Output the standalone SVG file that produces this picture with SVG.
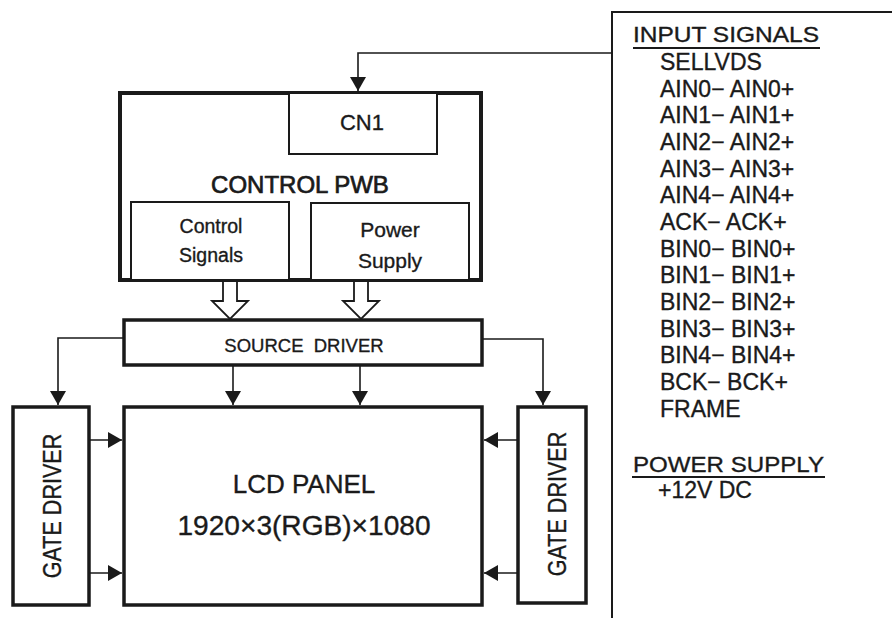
<svg xmlns="http://www.w3.org/2000/svg" width="892" height="621" viewBox="0 0 892 621">
<defs>
<style>
text{font-family:"Liberation Sans",Arial,sans-serif;fill:#1a1a1a;stroke:#1a1a1a;stroke-width:0.35}
.box{fill:#fff;stroke:#1a1a1a}
.thick{stroke-width:4}
.med{stroke-width:3.5}
.thin{stroke-width:2}
.wire{fill:none;stroke:#1a1a1a;stroke-width:1.6}
.hollow{fill:#fff;stroke:#1a1a1a;stroke-width:1.8;stroke-linejoin:miter}
.item{font-size:23px}
.head{font-size:22.5px}
.bold{stroke-width:0.7}
</style>
<marker id="ah" viewBox="0 0 14 16" markerWidth="14" markerHeight="16" refX="14" refY="8" orient="auto" markerUnits="userSpaceOnUse">
<path d="M0,0 L14,8 L0,16 Z" fill="#1a1a1a"/>
</marker>
</defs>
<rect width="892" height="621" fill="#fff"/>

<g id="input-panel">
<path d="M892,12 H612 V618" fill="none" stroke="#1a1a1a" stroke-width="2"/>
<text class="head" x="633" y="42" textLength="186" lengthAdjust="spacingAndGlyphs">INPUT SIGNALS</text>
<line x1="633" y1="48" x2="820" y2="48" stroke="#1a1a1a" stroke-width="2"/>
<text class="item" x="660" y="70">SELLVDS</text>
<text class="item" x="660" y="97">AIN0− AIN0+</text>
<text class="item" x="660" y="123">AIN1− AIN1+</text>
<text class="item" x="660" y="150">AIN2− AIN2+</text>
<text class="item" x="660" y="177">AIN3− AIN3+</text>
<text class="item" x="660" y="203">AIN4− AIN4+</text>
<text class="item" x="660" y="230">ACK− ACK+</text>
<text class="item" x="660" y="257">BIN0− BIN0+</text>
<text class="item" x="660" y="283">BIN1− BIN1+</text>
<text class="item" x="660" y="310">BIN2− BIN2+</text>
<text class="item" x="660" y="337">BIN3− BIN3+</text>
<text class="item" x="660" y="363">BIN4− BIN4+</text>
<text class="item" x="660" y="390">BCK− BCK+</text>
<text class="item" x="660" y="417">FRAME</text>
<text class="head" x="633" y="472" textLength="191" lengthAdjust="spacingAndGlyphs">POWER SUPPLY</text>
<line x1="632" y1="477" x2="825" y2="477" stroke="#1a1a1a" stroke-width="2"/>
<text class="item" x="658" y="498">+12V DC</text>
</g>

<g id="control-pwb">
<rect class="box thick" x="120" y="93" width="361" height="187"/>
<text class="bold" x="300" y="193" font-size="24" text-anchor="middle">CONTROL PWB</text>
</g>

<g id="cn1">
<rect class="box thin" x="289" y="93" width="148" height="61"/>
<text x="362" y="130" font-size="22" text-anchor="middle">CN1</text>
</g>

<g id="control-signals">
<rect class="box thin" x="131" y="202" width="158" height="78"/>
<text x="211" y="233" font-size="19.5" text-anchor="middle">Control</text>
<text x="211" y="262" font-size="19.5" text-anchor="middle">Signals</text>
</g>

<g id="power-supply">
<rect class="box thin" x="311" y="203" width="158" height="77"/>
<text x="390" y="237" font-size="21" text-anchor="middle">Power</text>
<text x="390" y="268" font-size="21" text-anchor="middle">Supply</text>
</g>

<g id="source-driver">
<rect class="box med" x="124" y="320" width="358" height="45"/>
<text x="304" y="352" font-size="18.5" text-anchor="middle" style="white-space:pre">SOURCE  DRIVER</text>
</g>

<g id="lcd-panel">
<rect class="box med" x="124" y="407" width="358" height="198"/>
<text x="304" y="493" font-size="26" text-anchor="middle">LCD PANEL</text>
<text x="304" y="535" font-size="27" text-anchor="middle" textLength="253" lengthAdjust="spacingAndGlyphs">1920×3(RGB)×1080</text>
</g>

<g id="gate-driver-left">
<rect class="box med" x="13" y="407" width="76" height="198"/>
<text transform="translate(61,506) rotate(-90) scale(0.83,1)" font-size="26" text-anchor="middle">GATE DRIVER</text>
</g>

<g id="gate-driver-right">
<rect class="box med" x="518" y="407" width="68" height="196"/>
<text transform="translate(566,504) rotate(-90) scale(0.83,1)" font-size="26" text-anchor="middle">GATE DRIVER</text>
</g>

<g id="connectors">
<path class="wire" d="M612,53 H358 V91" marker-end="url(#ah)"/>
<polygon class="hollow" points="223,281 237,281 237,301 248,301 230,319 212,301 223,301"/>
<polygon class="hollow" points="354,281 368,281 368,301 379,301 361,319 343,301 354,301"/>
<path class="wire" d="M124,338 H58 V405" marker-end="url(#ah)"/>
<path class="wire" d="M482,339 H543 V405" marker-end="url(#ah)"/>
<path class="wire" d="M233,366 V405" marker-end="url(#ah)"/>
<path class="wire" d="M360,366 V405" marker-end="url(#ah)"/>
<path class="wire" d="M89,440 H122" marker-end="url(#ah)"/>
<path class="wire" d="M89,573 H122" marker-end="url(#ah)"/>
<path class="wire" d="M518,440 H484" marker-end="url(#ah)"/>
<path class="wire" d="M518,573 H484" marker-end="url(#ah)"/>
</g>
</svg>
